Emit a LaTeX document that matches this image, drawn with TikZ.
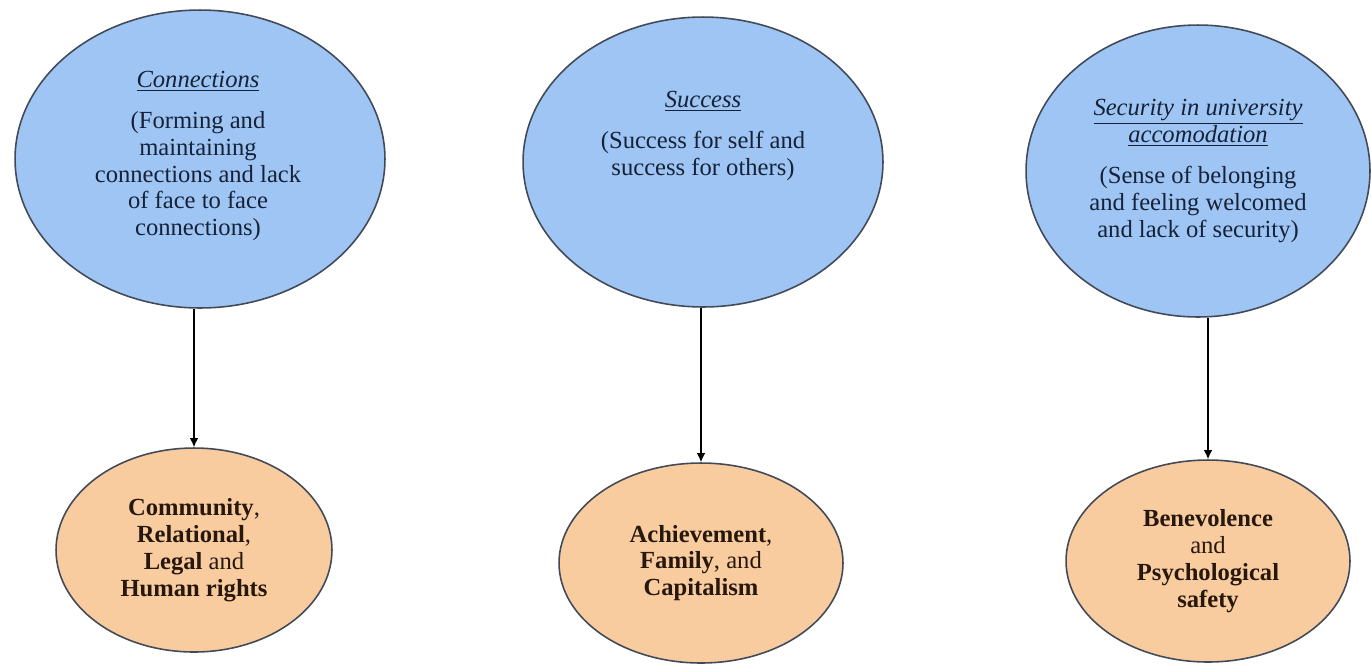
\documentclass[tikz,border=0pt]{standalone}
\usepackage{fontspec}
\setmainfont{Liberation Serif}
\usetikzlibrary{arrows.meta, shapes.geometric}
\definecolor{themeBlue}{RGB}{158,197,243}
\definecolor{valueOrange}{RGB}{249,204,160}
\definecolor{rimGrey}{RGB}{66,74,88}
\definecolor{themeInk}{RGB}{22,34,56}
\definecolor{valueInk}{RGB}{38,24,12}
\tikzset{%
  >={Latex[width=1.7mm,length=1.8mm]},
  % Specifications for style of nodes:
       oval/.style = {ellipse, draw=rimGrey, line width=0.9pt, inner sep=0pt},
      theme/.style = {oval, fill=themeBlue},
      value/.style = {oval, fill=valueOrange, align=center, text=valueInk,
                      font=\fontsize{14}{15.3}\selectfont},
  themeText/.style = {align=center, text=themeInk,
                      font=\fontsize{14}{15.3}\selectfont},
}

\begin{document}
\begin{tikzpicture}[x=0.02cm, y=-0.02cm]
  \useasboundingbox (0,0) rectangle (1371,664);
  % Specification of nodes (position, etc.)
  \node (connections) [theme, minimum width=7.4cm, minimum height=5.96cm]  at (200,159)  {};
  \node (success)     [theme, minimum width=7.2cm, minimum height=5.8cm]   at (703,162)  {};
  \node (security)    [theme, minimum width=6.88cm, minimum height=5.84cm] at (1198,171) {};
  \node (connText) [themeText] at (198,156)
    {\underline{\textit{Connections}}\\[8pt]
     (Forming and\\ maintaining\\ connections and lack\\ of face to face\\ connections)};
  \node (succText) [themeText] at (703,136)
    {\underline{\textit{Success}}\\[8pt]
     (Success for self and\\ success for others)};
  \node (secText)  [themeText] at (1198,171)
    {\underline{\textit{Security in university}}\\ \underline{\textit{accomodation}}\\[8pt]
     (Sense of belonging\\ and feeling welcomed\\ and lack of security)};
  \node (community)   [value, minimum width=5.52cm, minimum height=4.08cm] at (194,550)
    {\textbf{Community},\\ \textbf{Relational},\\ \textbf{Legal} and\\ \textbf{Human rights}};
  \node (achievement) [value, minimum width=5.68cm, minimum height=4cm]    at (701,563)
    {\textbf{Achievement},\\ \textbf{Family}, and\\ \textbf{Capitalism}};
  \node (benevolence) [value, minimum width=5.68cm, minimum height=4.04cm] at (1208,561)
    {\textbf{Benevolence}\\ and\\ \textbf{Psychological}\\ \textbf{safety}};
  % Specification of lines between nodes specified above
  \draw[->, line width=0.8pt] (connections.south -| community.north) -- (community.north);
  \draw[->, line width=0.8pt] (success.south -| achievement.north)   -- (achievement.north);
  \draw[->, line width=0.8pt] (security.south -| benevolence.north)  -- (benevolence.north);
\end{tikzpicture}
\end{document}
